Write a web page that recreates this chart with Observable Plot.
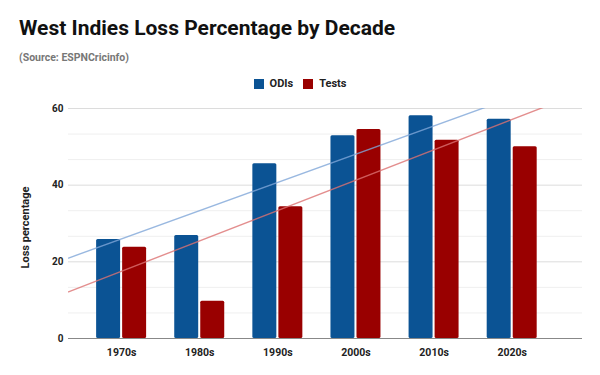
<!DOCTYPE html>
<html>
<head>
<meta charset="utf-8">
<script src="https://cdn.jsdelivr.net/npm/d3@7"></script>
<script src="https://cdn.jsdelivr.net/npm/@observablehq/plot@0.6"></script>
<style>
  body { margin: 0; background: #fff; font-family: Roboto, "Noto Sans", sans-serif; }
  #wrap { position: relative; width: 600px; height: 375px; overflow: hidden; }
  #title { position: absolute; left: 19px; top: 16px; font-size: 21px; font-weight: 700; color: #111; white-space: nowrap; }
  #sub { position: absolute; left: 19px; top: 51px; font-size: 10.5px; font-weight: 700; color: #777; white-space: nowrap; }
  #legend { position: absolute; left: 0; width: 600px; top: 77px; text-align: center; font-size: 11px; font-weight: 700; color: #222; }
  #legend span.item { display: inline-flex; align-items: center; margin: 0 5px; }
  #legend span.sw { display: inline-block; width: 10px; height: 10px; margin-right: 6px; }
  #chart { position: absolute; left: 0; top: 95px; }
</style>
</head>
<body>
<div id="wrap">
  <div id="title">West Indies Loss Percentage by Decade</div>
  <div id="sub">(Source: ESPNCricinfo)</div>
  <div id="legend"></div>
  <div id="chart"></div>
</div>
<script>
const decades = ["1970s", "1980s", "1990s", "2000s", "2010s", "2020s"];
const odis = [25.8, 26.9, 45.6, 52.9, 58.1, 57.2];
const tests = [23.8, 9.7, 34.4, 54.5, 51.7, 50.0];
const seriesNames = ["ODIs", "Tests"];
const seriesColors = ["#0b5394", "#990000"];
const trendColors = ["#7fa6d8", "#dc7272"];
const yTicks = [0, 20, 40, 60];

const rows = [];
decades.forEach((d, i) => {
  rows.push({decade: d, i, series: "ODIs", value: odis[i]});
  rows.push({decade: d, i, series: "Tests", value: tests[i]});
});

const xDomain = [-0.68, 5.9];
const yDomain = [0, 60];
const minorTicks = d3.range(0, 61, 20 / 3).filter(v => !yTicks.some(t => Math.abs(t - v) < 1e-6));

function regression(vals) {
  const xs = vals.map((_, i) => i);
  const mx = d3.mean(xs), my = d3.mean(vals);
  const slope = d3.sum(xs, (x, k) => (x - mx) * (vals[k] - my)) / d3.sum(xs, x => (x - mx) ** 2);
  const b = my - slope * mx;
  return xDomain.map(x => ({x, y: b + slope * x}));
}
const trendODI = regression(odis);
const trendTests = regression(tests);

const barHalf = 0.307, gap = 0.013;

const legend = document.getElementById("legend");
seriesNames.forEach((s, k) => {
  const it = document.createElement("span");
  it.className = "item";
  it.innerHTML = `<span class="sw" style="background:${seriesColors[k]}"></span>${s}`;
  legend.appendChild(it);
});

const chart = Plot.plot({
  width: 600,
  height: 280,
  marginTop: 13,
  marginBottom: 37,
  marginLeft: 68,
  marginRight: 18,
  style: {fontFamily: "Roboto, sans-serif", fontSize: "10px", fontWeight: 700, color: "#222", background: "transparent"},
  x: {type: "linear", domain: xDomain, axis: null},
  y: {domain: yDomain, axis: null},
  marks: [
    Plot.ruleY(minorTicks, {stroke: "#efefef", strokeWidth: 1}),
    Plot.ruleY(yTicks.slice(1), {stroke: "#dcdcdc", strokeWidth: 1}),
    Plot.rectY(rows, {
      x1: d => d.series === "ODIs" ? d.i - gap - barHalf : d.i + gap,
      x2: d => d.series === "ODIs" ? d.i - gap : d.i + gap + barHalf,
      y1: 0,
      y2: "value",
      fill: d => d.series === "ODIs" ? seriesColors[0] : seriesColors[1],
      rx: 1.5
    }),
    Plot.ruleY([0], {stroke: "#888", strokeWidth: 1.2}),
    Plot.line(trendODI, {x: "x", y: "y", stroke: trendColors[0], strokeOpacity: 0.8, strokeWidth: 1.4, clip: "frame"}),
    Plot.line(trendTests, {x: "x", y: "y", stroke: trendColors[1], strokeOpacity: 0.8, strokeWidth: 1.4, clip: "frame"}),
    Plot.axisY({ticks: yTicks, tickSize: 0, tickPadding: 5, label: null, fontWeight: 700, fill: "#222"}),
    Plot.axisX({ticks: decades.map((_, i) => i), tickFormat: i => decades[i], tickSize: 0, tickPadding: 10, label: null, fontWeight: 700, fill: "#222", fontSize: 10.5}),
    Plot.text(["Loss percentage"], {frameAnchor: "left", textAnchor: "middle", dx: -43, dy: 4, rotate: -90, fontSize: 11, fontWeight: 700, fill: "#222"})
  ]
});
document.getElementById("chart").appendChild(chart);
</script>
</body>
</html>
